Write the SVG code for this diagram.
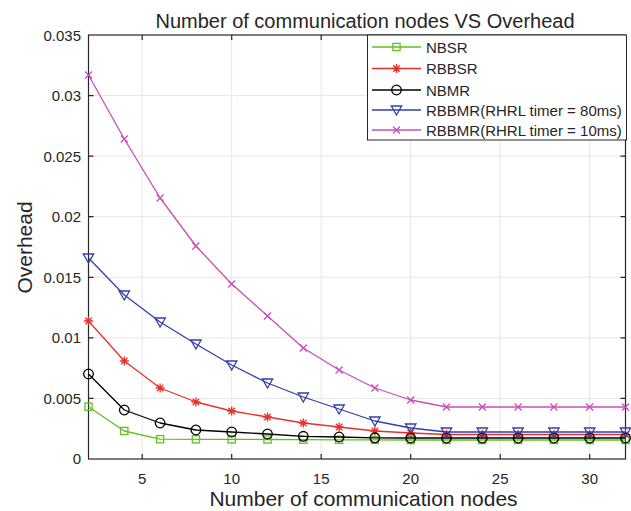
<svg xmlns="http://www.w3.org/2000/svg" width="631" height="511" viewBox="0 0 631 511">
<style>
text{font-family:"Liberation Sans",Arial,sans-serif;fill:#262626}
.tick{font-size:15px}
.grid{stroke:#e6e6e6;stroke-width:1;fill:none}
.axis{stroke:#262626;stroke-width:1.2;fill:none}
.s{fill:none;stroke-width:1.3;stroke-linejoin:round}
.g{stroke:#5ec21c}
.r{stroke:#e8302a}
.k{stroke:#000}
.b{stroke:#3040a8}
.m{stroke:#cc4cbb}
</style>
<defs>
<marker id="mSq" viewBox="-7 -7 14 14" markerWidth="14" markerHeight="14" markerUnits="userSpaceOnUse" refX="0" refY="0" overflow="visible"><rect x="-3.6" y="-3.6" width="7.2" height="7.2" fill="none" stroke="#5ec21c" stroke-width="1.3"/></marker>
<marker id="mAst" viewBox="-7 -7 14 14" markerWidth="14" markerHeight="14" markerUnits="userSpaceOnUse" refX="0" refY="0" overflow="visible"><path d="M-4.5 0H4.5M0 -4.5V4.5M-3.2 -3.2L3.2 3.2M-3.2 3.2L3.2 -3.2" stroke="#e8302a" stroke-width="1.3" fill="none"/></marker>
<marker id="mCir" viewBox="-7 -7 14 14" markerWidth="14" markerHeight="14" markerUnits="userSpaceOnUse" refX="0" refY="0" overflow="visible"><circle r="4.8" fill="none" stroke="#000" stroke-width="1.3"/></marker>
<marker id="mTri" viewBox="-7 -7 14 14" markerWidth="14" markerHeight="14" markerUnits="userSpaceOnUse" refX="0" refY="0" overflow="visible"><path d="M-5.2 -4 L5.2 -4 L0 5 Z" fill="none" stroke="#3040a8" stroke-width="1.3"/></marker>
<marker id="mX" viewBox="-7 -7 14 14" markerWidth="14" markerHeight="14" markerUnits="userSpaceOnUse" refX="0" refY="0" overflow="visible"><path d="M-3.5 -3.5L3.5 3.5M-3.5 3.5L3.5 -3.5" stroke="#cc4cbb" stroke-width="1.3" fill="none"/></marker>
</defs>
<rect width="631" height="511" fill="#fff"/>
<g id="grid">
<path class="grid" d="M142.2 35V459M231.7 35V459M321.2 35V459M410.7 35V459M500.2 35V459M589.7 35V459M88.5 398.4H625.5M88.5 337.9H625.5M88.5 277.3H625.5M88.5 216.7H625.5M88.5 156.1H625.5M88.5 95.6H625.5"/>
</g>
<g id="axes">
<rect class="axis" x="88.5" y="35" width="537" height="424"/>
<path class="axis" d="M142.2 459v-5M231.7 459v-5M321.2 459v-5M410.7 459v-5M500.2 459v-5M589.7 459v-5M142.2 35v5M231.7 35v5M321.2 35v5M410.7 35v5M500.2 35v5M589.7 35v5M88.5 398.4h5M88.5 337.9h5M88.5 277.3h5M88.5 216.7h5M88.5 156.1h5M88.5 95.6h5M625.5 398.4h-5M625.5 337.9h-5M625.5 277.3h-5M625.5 216.7h-5M625.5 156.1h-5M625.5 95.6h-5"/>
<g class="tick" text-anchor="end">
<text x="81" y="464">0</text>
<text x="81" y="403.5">0.005</text>
<text x="81" y="343">0.01</text>
<text x="81" y="282.5">0.015</text>
<text x="81" y="222">0.02</text>
<text x="81" y="161.5">0.025</text>
<text x="81" y="101">0.03</text>
<text x="81" y="40.5">0.035</text>
</g>
<g class="tick" text-anchor="middle">
<text x="142.2" y="484">5</text>
<text x="231.7" y="484">10</text>
<text x="321.2" y="484">15</text>
<text x="410.7" y="484">20</text>
<text x="500.2" y="484">25</text>
<text x="589.7" y="484">30</text>
</g>
<text x="363.5" y="506" font-size="21" text-anchor="middle">Number of communication nodes</text>
<text x="32" y="247.5" font-size="21" text-anchor="middle" transform="rotate(-90 32 247.5)">Overhead</text>
<text x="365" y="28" font-size="20" text-anchor="middle" fill="#000">Number of communication nodes VS Overhead</text>
</g>
<g id="series">
<polyline class="s g" marker-start="url(#mSq)" marker-mid="url(#mSq)" marker-end="url(#mSq)" points="88.5,406.7 124.3,431 160.1,439.2 195.9,439.3 231.7,439.4 267.5,439.5 303.3,439.6 339.1,439.8 374.9,439.9 410.7,440 446.5,440 482.3,440 518.1,440 553.9,440 589.7,440 625.5,440"/>
<polyline class="s r" marker-start="url(#mAst)" marker-mid="url(#mAst)" marker-end="url(#mAst)" points="88.5,321 124.3,361 160.1,388 195.9,402 231.7,411 267.5,417 303.3,423 339.1,427 374.9,431 410.7,433 446.5,434.5 482.3,434.5 518.1,434.5 553.9,434.5 589.7,434.5 625.5,434.5"/>
<polyline class="s k" marker-start="url(#mCir)" marker-mid="url(#mCir)" marker-end="url(#mCir)" points="88.5,374 124.3,410 160.1,423 195.9,430 231.7,432 267.5,434 303.3,436.3 339.1,437 374.9,437.8 410.7,438 446.5,438 482.3,438 518.1,438 553.9,438 589.7,438 625.5,438"/>
<polyline class="s b" marker-start="url(#mTri)" marker-mid="url(#mTri)" marker-end="url(#mTri)" points="88.5,258 124.3,295 160.1,322 195.9,344 231.7,365 267.5,383 303.3,397 339.1,409 374.9,421 410.7,428 446.5,432 482.3,432 518.1,432 553.9,432 589.7,432 625.5,432"/>
<polyline class="s m" marker-start="url(#mX)" marker-mid="url(#mX)" marker-end="url(#mX)" points="88.5,75 124.3,139 160.1,198 195.9,246 231.7,284 267.5,316 303.3,348 339.1,370 374.9,388 410.7,400 446.5,407 482.3,407 518.1,407 553.9,407 589.7,407 625.5,407"/>
</g>
<g id="legend">
<rect x="367.5" y="35" width="259" height="105" fill="#fff" stroke="#262626" stroke-width="1"/>
<polyline class="s g" marker-mid="url(#mSq)" points="372,47 396.5,47 421,47"/>
<polyline class="s r" marker-mid="url(#mAst)" points="372,68.5 396.5,68.5 421,68.5"/>
<polyline class="s k" marker-mid="url(#mCir)" points="372,90 396.5,90 421,90"/>
<polyline class="s b" marker-mid="url(#mTri)" points="372,110 396.5,110 421,110"/>
<polyline class="s m" marker-mid="url(#mX)" points="372,130 396.5,130 421,130"/>
<g font-size="15">
<text x="426" y="52.5" fill="#000">NBSR</text>
<text x="426" y="74" fill="#000">RBBSR</text>
<text x="426" y="95.5" fill="#000">NBMR</text>
<text x="426" y="115.5" fill="#000">RBBMR(RHRL timer = 80ms)</text>
<text x="426" y="135.5" fill="#000">RBBMR(RHRL timer = 10ms)</text>
</g>
</g>
</svg>
